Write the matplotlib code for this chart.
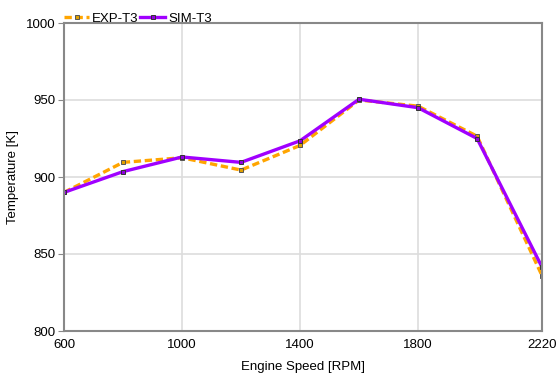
import matplotlib
matplotlib.use("Agg")
import matplotlib.pyplot as plt

plt.rcParams["font.family"] = ["Liberation Sans", "DejaVu Sans"]

# Engine speed points [RPM]
speed = [600, 800, 1000, 1200, 1400, 1600, 1800, 2000, 2220]

# Exhaust temperature T3 [K]
exp_t3 = [890, 909.5, 912.5, 904.5, 920.5, 950, 946, 926.5, 836]
sim_t3 = [890, 903.5, 913, 909.5, 923.5, 950.5, 945, 925, 841.5]

x_ticks = [600, 1000, 1400, 1800, 2220]
y_ticks = [800, 850, 900, 950, 1000]

fig = plt.figure(figsize=(5.56, 3.76), dpi=100)
ax = fig.add_axes([64 / 556, 1 - 331 / 376, (542 - 64) / 556, (331 - 23) / 376])

ax.plot(speed, exp_t3, color="#FFA500", linestyle=(0, (2.2, 1.1)), linewidth=2.4,
        marker="s", markersize=3.5, markerfacecolor="#E0A000",
        markeredgecolor="#555555", markeredgewidth=0.7, label="EXP-T3")
ax.plot(speed, sim_t3, color="#A000FF", linestyle="-", linewidth=2.4,
        marker="s", markersize=3.5, markerfacecolor="#9000E0",
        markeredgecolor="#333333", markeredgewidth=0.7, label="SIM-T3")

ax.set_xlim(600, 2220)
ax.set_ylim(800, 1000)
ax.set_xticks(x_ticks)
ax.set_yticks(y_ticks)
ax.grid(color="#DDDDDD", linewidth=1.2)
ax.set_axisbelow(True)

for s in ax.spines.values():
    s.set_color("#888888")
    s.set_linewidth(1.5)
ax.tick_params(axis="x", length=0, labelsize=9.5, pad=6)
ax.tick_params(axis="y", length=4, color="#888888", labelsize=9.5, pad=2)

ax.set_xlabel("Engine Speed [RPM]", fontsize=9.5, labelpad=7)
ax.set_ylabel("Temperature [K]", fontsize=9.5, labelpad=5)

ax.legend(loc="lower left", bbox_to_anchor=(0.0, 0.995), ncol=2, frameon=False,
          fontsize=9.5, numpoints=1, handlelength=1.9, handletextpad=0.25,
          columnspacing=0.1, borderaxespad=0, borderpad=0)

fig.savefig("out.png", dpi=100)
